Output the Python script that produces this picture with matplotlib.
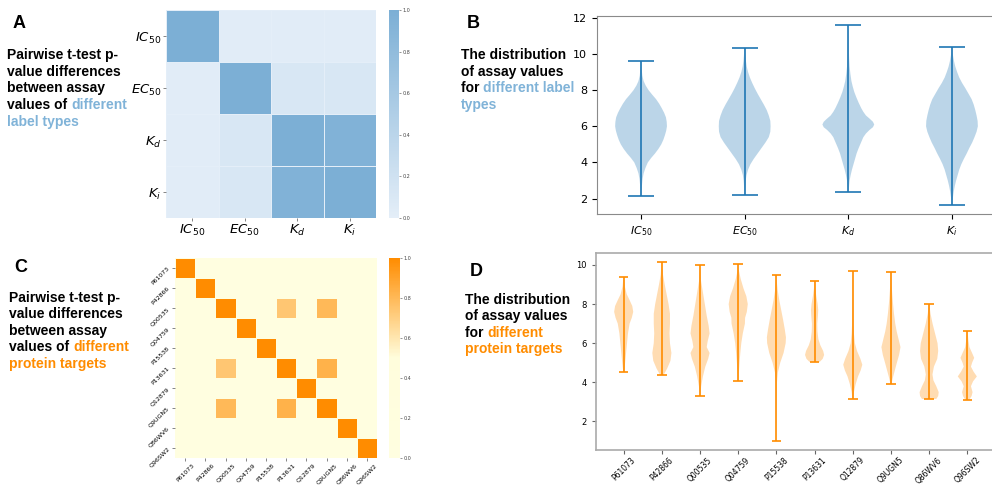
import numpy as np
import matplotlib.pyplot as plt
from matplotlib.colors import LinearSegmentedColormap

# ---------------- data ----------------
label_types = ['$IC_{50}$', '$EC_{50}$', '$K_d$', '$K_i$']
label_pvals = [[1.00, 0.03, 0.03, 0.03],
               [0.03, 1.00, 0.12, 0.12],
               [0.03, 0.12, 1.00, 0.95],
               [0.03, 0.12, 0.95, 1.00]]

targets = ['P61073', 'P42866', 'Q00535', 'Q04759', 'P15538',
           'P13631', 'Q12879', 'Q9UGN5', 'Q86WV6', 'Q96SW2']
# pairs with p-value above 0 (diagonal is 1)
target_pairs = [('Q00535', 'P13631', 0.74),
                ('Q00535', 'Q9UGN5', 0.80),
                ('P13631', 'Q9UGN5', 0.83)]

# violin profiles: (min, max, y knots, relative width)
label_violins = [
    (2.15, 9.6,
     [2.15, 2.5, 2.8, 3.1, 3.4, 3.7, 4.0, 4.25, 4.5, 4.75, 5.0, 5.25, 5.5, 5.75, 6.0,
      6.25, 6.5, 6.75, 7.0, 7.25, 7.5, 7.75, 8.0, 8.25, 8.5, 8.8, 9.1, 9.6],
     [0.01, 0.02, 0.04, 0.06, 0.10, 0.17, 0.26, 0.39, 0.54, 0.67, 0.78, 0.86, 0.92, 0.97, 1.0,
      0.99, 0.96, 0.89, 0.80, 0.70, 0.58, 0.43, 0.29, 0.18, 0.10, 0.05, 0.03, 0.01]),
    (2.2, 10.35,
     [2.2, 2.6, 3.0, 3.3, 3.6, 3.9, 4.2, 4.5, 4.8, 5.1, 5.4, 5.7, 6.0, 6.3, 6.6, 6.9,
      7.2, 7.5, 7.8, 8.1, 8.4, 8.7, 9.0, 9.3, 9.6, 9.9, 10.35],
     [0.01, 0.02, 0.04, 0.07, 0.13, 0.22, 0.35, 0.50, 0.65, 0.80, 0.93, 0.99, 1.0, 0.99, 0.93, 0.85,
      0.74, 0.62, 0.50, 0.39, 0.29, 0.20, 0.13, 0.08, 0.05, 0.03, 0.01]),
    (2.35, 11.6,
     [2.35, 2.7, 3.0, 3.3, 3.6, 3.9, 4.2, 4.5, 4.8, 5.1, 5.4, 5.6, 5.8, 5.95, 6.1, 6.25,
      6.4, 6.6, 6.8, 7.0, 7.3, 7.6, 7.9, 8.2, 8.5, 8.9, 9.3, 9.8, 10.4, 11.0, 11.6],
     [0.01, 0.03, 0.05, 0.09, 0.14, 0.20, 0.26, 0.32, 0.40, 0.49, 0.58, 0.68, 0.82, 0.95, 1.0, 0.95,
      0.84, 0.68, 0.58, 0.50, 0.40, 0.31, 0.23, 0.17, 0.12, 0.08, 0.05, 0.03, 0.02, 0.01, 0.005]),
    (1.65, 10.4,
     [1.65, 1.9, 2.1, 2.4, 2.7, 3.0, 3.3, 3.6, 3.9, 4.2, 4.5, 4.8, 5.1, 5.4, 5.7, 6.0,
      6.3, 6.6, 6.9, 7.2, 7.5, 7.8, 8.1, 8.4, 8.7, 9.0, 9.3, 9.6, 10.0, 10.4],
     [0.01, 0.02, 0.04, 0.07, 0.11, 0.16, 0.22, 0.28, 0.36, 0.46, 0.57, 0.67, 0.78, 0.87, 0.95, 1.0,
      0.99, 0.95, 0.90, 0.84, 0.76, 0.64, 0.52, 0.39, 0.28, 0.20, 0.13, 0.08, 0.03, 0.01]),
]

target_violins = [
    (4.55, 9.4, [4.55, 5.0, 5.5, 6.0, 6.5, 7.0, 7.3, 7.6, 7.9, 8.2, 8.5, 8.9, 9.4],
     [0.05, 0.15, 0.25, 0.35, 0.45, 0.62, 0.85, 1.0, 0.9, 0.62, 0.32, 0.12, 0.02]),
    (4.35, 10.15, [4.35, 4.7, 5.1, 5.5, 6.0, 6.5, 7.0, 7.5, 8.0, 8.5, 9.0, 9.5, 10.15],
     [0.15, 0.55, 0.9, 1.0, 0.85, 0.8, 0.85, 0.85, 0.7, 0.5, 0.3, 0.12, 0.02]),
    (3.3, 10.0, [3.3, 3.8, 4.3, 4.8, 5.2, 5.5, 5.8, 6.1, 6.5, 6.9, 7.4, 8.0, 8.6, 9.2, 10.0],
     [0.03, 0.12, 0.3, 0.55, 0.85, 1.0, 0.7, 0.8, 1.0, 0.9, 0.7, 0.5, 0.3, 0.1, 0.02]),
    (4.05, 10.05, [4.05, 4.5, 5.0, 5.5, 6.0, 6.5, 7.0, 7.3, 7.6, 8.0, 8.4, 8.8, 9.3, 9.7, 10.05],
     [0.03, 0.07, 0.14, 0.22, 0.32, 0.48, 0.7, 0.72, 0.9, 1.0, 0.85, 0.55, 0.25, 0.08, 0.02]),
    (1.0, 9.5, [1.0, 2.0, 3.0, 4.0, 4.5, 5.0, 5.5, 6.0, 6.3, 6.7, 7.2, 7.7, 8.2, 8.7, 9.1, 9.5],
     [0.01, 0.02, 0.03, 0.06, 0.15, 0.4, 0.75, 0.97, 1.0, 0.88, 0.7, 0.5, 0.3, 0.14, 0.05, 0.01]),
    (5.05, 9.2, [5.05, 5.2, 5.4, 5.6, 5.9, 6.2, 6.6, 7.0, 7.4, 7.7, 8.0, 8.4, 8.8, 9.2],
     [0.55, 0.85, 1.0, 0.9, 0.6, 0.4, 0.3, 0.28, 0.35, 0.38, 0.32, 0.18, 0.07, 0.02]),
    (3.15, 9.7, [3.15, 3.5, 3.9, 4.3, 4.6, 4.9, 5.2, 5.6, 6.0, 6.5, 7.0, 8.0, 9.0, 9.7],
     [0.04, 0.12, 0.3, 0.55, 0.82, 1.0, 0.8, 0.45, 0.22, 0.12, 0.07, 0.04, 0.02, 0.01]),
    (3.9, 9.65, [3.9, 4.2, 4.6, 5.0, 5.4, 5.8, 6.2, 6.6, 7.0, 7.5, 8.0, 8.5, 9.0, 9.65],
     [0.05, 0.18, 0.4, 0.62, 0.85, 1.0, 0.8, 0.6, 0.45, 0.32, 0.22, 0.14, 0.07, 0.02]),
    (3.15, 8.0, [3.15, 3.3, 3.5, 3.8, 4.1, 4.4, 4.8, 5.2, 5.6, 6.0, 6.5, 7.0, 7.5, 8.0],
     [0.75, 0.95, 1.0, 0.75, 0.45, 0.35, 0.5, 0.85, 0.95, 0.88, 0.62, 0.36, 0.15, 0.02]),
    (3.1, 6.6, [3.1, 3.3, 3.5, 3.8, 4.05, 4.3, 4.55, 4.8, 5.0, 5.25, 5.5, 5.8, 6.2, 6.6],
     [0.2, 0.45, 0.55, 0.38, 0.6, 1.0, 0.65, 0.38, 0.5, 0.72, 0.5, 0.22, 0.1, 0.03]),
]

BLUE_TXT = '#80b3d8'
ORANGE = '#ff8c00'
W, H = 992, 486

fig = plt.figure(figsize=(W / 100, H / 100), dpi=100)
renderer = fig.canvas.get_renderer()


def px_box(x0, y0, x1, y1):
    # pixel box (top-left origin) -> figure fraction rect
    return [x0 / W, 1 - y1 / H, (x1 - x0) / W, (y1 - y0) / H]


def text_width(s, **kw):
    t = fig.text(0, 0, s, **kw)
    w = t.get_window_extent(renderer).width
    t.remove()
    return w


def write_block(x, y0, step, lines, color2, size=10):
    kw = dict(fontsize=size, fontweight='bold', family='Liberation Sans')
    for i, (black, colored) in enumerate(lines):
        y = 1 - (y0 + i * step) / H
        if black:
            fig.text(x / W, y, black, color='black', va='center', **kw)
        if colored:
            if black:
                off = text_width(black + colored, **kw) - text_width(colored, **kw)
            else:
                off = 0
            fig.text((x + off) / W, y, colored, color=color2, va='center', **kw)


def heatmap(rect, cbar_rect, mat, labels, cmap, lab_size, rot):
    ax = fig.add_axes(rect)
    n = len(labels)
    m = ax.pcolormesh(np.arange(n + 1), np.arange(n + 1), mat, cmap=cmap,
                      vmin=0, vmax=1, edgecolors=cmap(0.0), linewidth=0.6)
    ax.set_xlim(0, n)
    ax.set_ylim(n, 0)
    ax.set_xticks(np.arange(n) + 0.5)
    ax.set_yticks(np.arange(n) + 0.5)
    ax.set_xticklabels(labels, fontsize=lab_size, rotation=rot)
    ax.set_yticklabels(labels, fontsize=lab_size, rotation=rot)
    ax.tick_params(length=2, width=0.5, color='#555555', pad=1.2)
    for s in ax.spines.values():
        s.set_visible(False)
    cax = fig.add_axes(cbar_rect)
    cb = fig.colorbar(m, cax=cax, ticks=[0, 0.2, 0.4, 0.6, 0.8, 1.0])
    cb.outline.set_visible(False)
    cax.tick_params(labelsize=3.5, length=1.5, width=0.4, pad=1,
                    colors='#444444')
    return ax


def violins(ax, profiles, color):
    stats = []
    for lo, hi, ys, ws in profiles:
        ys = np.array(ys)
        ws = np.array(ws)
        mid = ys[np.argmax(ws)]
        stats.append(dict(coords=ys, vals=ws, mean=mid, median=mid,
                          min=lo, max=hi, quantiles=[]))
    parts = ax.violin(stats, positions=np.arange(1, len(stats) + 1), widths=0.5)
    for b in parts['bodies']:
        b.set_facecolor(color)
        b.set_edgecolor('none')
        b.set_alpha(0.3)
    for k in ('cbars', 'cmins', 'cmaxes'):
        parts[k].set_color(color)
        parts[k].set_linewidth(1.2)
    for s in ax.spines.values():
        s.set_color('#8a8a8a')
    return parts


# ---------------- A ----------------
blues = LinearSegmentedColormap.from_list('b', ['#e4eef8', '#7cafd5'])
heatmap(px_box(166, 10, 376, 218), px_box(389, 10, 399, 218),
        np.array(label_pvals), label_types, blues, 9.5, 0)

fig.text(13 / W, 1 - 24 / H, 'A', fontsize=13, fontweight='bold',
         family='Liberation Sans', va='center')
write_block(7, 55, 16.7, [('Pairwise t-test p-', ''), ('value differences', ''),
                          ('between assay', ''), ('values of ', 'different'),
                          ('', 'label types')], BLUE_TXT)

# ---------------- B ----------------
axB = fig.add_axes(px_box(597, 16, 996, 214))
violins(axB, label_violins, '#1f77b4')
axB.set_xticks(np.arange(1, 5))
axB.set_xticklabels(label_types, fontsize=8)
axB.tick_params(axis='y', labelsize=8)
axB.set_yticks([2, 4, 6, 8, 10, 12])

fig.text(467 / W, 1 - 24 / H, 'B', fontsize=13, fontweight='bold',
         family='Liberation Sans', va='center')
write_block(461, 55, 16.7, [('The distribution', ''), ('of assay values', ''),
                            ('for ', 'different label'), ('', 'types')], BLUE_TXT)

# ---------------- C ----------------
n = len(targets)
tmat = np.eye(n)
for a, b, v in target_pairs:
    i, j = targets.index(a), targets.index(b)
    tmat[i, j] = v
    tmat[j, i] = v
oranges = LinearSegmentedColormap.from_list(
    'o', [(0, '#fffee0'), (0.5, '#fffddc'), (1, ORANGE)])
heatmap(px_box(175, 258, 377, 458), px_box(389, 258, 400, 458),
        tmat, targets, oranges, 4.5, 45)

fig.text(14 / W, 1 - 267 / H, 'C', fontsize=13, fontweight='bold',
         family='Liberation Sans', va='center')
write_block(9, 298, 16.4, [('Pairwise t-test p-', ''), ('value differences', ''),
                           ('between assay', ''), ('values of ', 'different'),
                           ('', 'protein targets')], ORANGE)

# ---------------- D ----------------
axD = fig.add_axes(px_box(596, 253, 995, 450))
violins(axD, target_violins, ORANGE)
axD.set_xticks(np.arange(1, n + 1))
axD.set_xticklabels(targets, fontsize=5.5, rotation=45)
axD.tick_params(axis='y', labelsize=6)
axD.tick_params(length=3, color='#666666')
axD.tick_params(axis='x', pad=1)
for s in axD.spines.values():
    s.set_color('#aaaaaa')
    s.set_linewidth(1.2)

fig.text(470 / W, 1 - 272 / H, 'D', fontsize=13, fontweight='bold',
         family='Liberation Sans', va='center')
write_block(465, 300, 16.4, [('The distribution', ''), ('of assay values', ''),
                             ('for ', 'different'), ('', 'protein targets')], ORANGE)

fig.savefig('out.png', dpi=100)
